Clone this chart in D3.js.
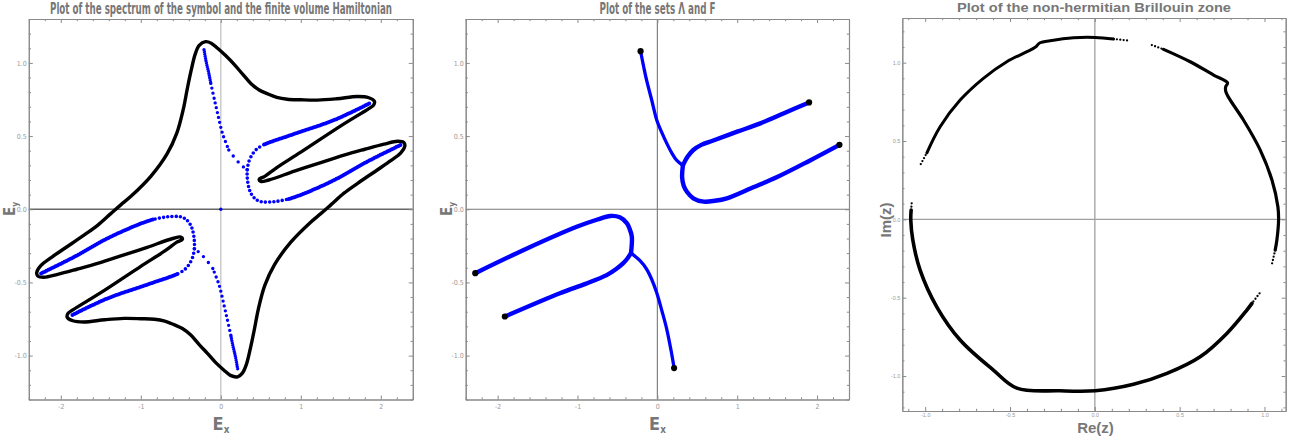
<!DOCTYPE html>
<html><head><meta charset="utf-8">
<script src="https://cdn.jsdelivr.net/npm/d3@7"></script>
<style>body{margin:0;background:#fff}svg{display:block}</style>
</head><body><svg id="c" width="1289" height="444"></svg>
<script>
// ---------------- DATA ----------------
const titles = ["Plot of the spectrum of the symbol and the finite volume Hamiltonian",
                "Plot of the sets \u039B and F",
                "Plot of the non-hermitian Brillouin zone"];
const ticksEx = [-2, -1, 0, 1, 2];
const ticksEy = [-1, -0.5, 0, 0.5, 1];
const ticksZx = [-1, -0.5, 0, 0.5, 1];
const ticksZy = [-1, -0.5, 0, 0.5, 1];

// Panel 1: spectrum of the symbol (closed black curve)
const symbolSpectrum = [
 [-0.19,1.145],[-0.12,1.135],[-0.04,1.10],[0.06,1.05],[0.167,0.99],[0.27,0.925],[0.375,0.86],[0.48,0.815],
 [0.58,0.79],[0.70,0.765],[0.83,0.752],[1.0,0.748],[1.21,0.746],[1.45,0.755],[1.71,0.77],[1.85,0.762],
 [1.92,0.738],[1.91,0.712],[1.85,0.688],[1.5,0.57],[1.0,0.39],[0.7,0.285],[0.55,0.225],[0.48,0.205],
 [0.5,0.19],[0.6,0.2],[0.92,0.26],[1.2,0.31],[1.54,0.37],[1.8,0.41],[2.04,0.445],[2.21,0.465],
 [2.29,0.455],[2.30,0.43],[2.25,0.385],[2.12,0.33],[1.96,0.27],[1.71,0.177],[1.54,0.11],[1.375,0.03],
 [1.25,-0.03],[1.12,-0.09],[0.875,-0.225],[0.67,-0.38],[0.55,-0.52],[0.47,-0.68],[0.42,-0.82],
 [0.37,-0.95],[0.32,-1.06],[0.27,-1.12],[0.21,-1.145],
 [0.12,-1.135],[0.04,-1.10],[-0.06,-1.05],[-0.167,-0.985],[-0.27,-0.925],[-0.375,-0.86],[-0.48,-0.815],
 [-0.58,-0.79],[-0.70,-0.765],[-0.83,-0.752],[-1.0,-0.748],[-1.21,-0.746],[-1.45,-0.755],[-1.71,-0.77],
 [-1.85,-0.762],[-1.92,-0.738],[-1.91,-0.712],[-1.85,-0.688],[-1.5,-0.57],[-1.0,-0.39],[-0.7,-0.285],
 [-0.55,-0.225],[-0.48,-0.205],[-0.5,-0.19],[-0.6,-0.2],[-0.92,-0.26],[-1.2,-0.31],[-1.54,-0.37],
 [-1.8,-0.41],[-2.04,-0.445],[-2.21,-0.465],[-2.29,-0.455],[-2.30,-0.43],[-2.25,-0.385],[-2.12,-0.33],
 [-1.96,-0.27],[-1.71,-0.177],[-1.54,-0.11],[-1.375,-0.03],[-1.25,0.03],[-1.12,0.09],[-0.875,0.225],
 [-0.67,0.38],[-0.55,0.52],[-0.47,0.68],[-0.42,0.82],[-0.37,0.95],[-0.32,1.06],[-0.27,1.12]
];

// Panel 1: finite volume spectrum (blue dots), branches grouped by dot spacing
const fvStemTopA   = [[-0.21,1.09],[-0.18,1.0],[-0.15,0.93],[-0.125,0.86]];
const fvStemTopB   = [[-0.125,0.86],[-0.08,0.75],[-0.04,0.655],[0.02,0.52],[0.10,0.405]];
const fvStemTopC   = [[0.10,0.405],[0.19,0.34],[0.27,0.295],[0.33,0.27]];
const fvArmUpA     = [[0.33,0.27],[0.35,0.325],[0.40,0.38],[0.46,0.416],[0.55,0.445]];
const fvArmUpB     = [[0.55,0.445],[0.625,0.46],[1.0,0.53],[1.42,0.61],[1.875,0.728]];
const fvArmUpLowA  = [[0.33,0.27],[0.33,0.22],[0.345,0.16],[0.375,0.11],[0.43,0.072],[0.5,0.052],[0.67,0.052],[0.85,0.07]];
const fvArmUpLowB  = [[0.85,0.07],[1.0,0.098],[1.42,0.2],[1.83,0.325],[2.25,0.44]];
const fvStemBotA   = [[0.21,-1.09],[0.18,-1.0],[0.15,-0.93],[0.125,-0.86]];
const fvStemBotB   = [[0.125,-0.86],[0.08,-0.75],[0.04,-0.655],[-0.02,-0.52],[-0.10,-0.405]];
const fvStemBotC   = [[-0.10,-0.405],[-0.19,-0.34],[-0.27,-0.295],[-0.33,-0.27]];
const fvArmDnA     = [[-0.33,-0.27],[-0.35,-0.325],[-0.40,-0.38],[-0.46,-0.416],[-0.55,-0.445]];
const fvArmDnB     = [[-0.55,-0.445],[-0.625,-0.46],[-1.0,-0.53],[-1.42,-0.61],[-1.875,-0.728]];
const fvArmDnUpA   = [[-0.33,-0.27],[-0.33,-0.22],[-0.345,-0.16],[-0.375,-0.11],[-0.43,-0.072],[-0.5,-0.052],[-0.67,-0.052],[-0.85,-0.07]];
const fvArmDnUpB   = [[-0.85,-0.07],[-1.0,-0.098],[-1.42,-0.2],[-1.83,-0.325],[-2.25,-0.44]];
const fvOrigin     = [[0,0]];

// Panel 2: the sets Lambda (blue) and F (black end points)
const lamStemUp   = [[-0.21,1.08],[-0.17,0.97],[-0.134,0.88],[-0.07,0.745],[-0.008,0.61],[0.055,0.525],[0.118,0.45],[0.18,0.385],[0.24,0.336],[0.32,0.30]];
const lamArmUpTop = [[0.32,0.30],[0.38,0.36],[0.45,0.405],[0.55,0.44],[0.70,0.47],[1.0,0.53],[1.29,0.587],[1.6,0.66],[1.90,0.73]];
const lamArmUpBot = [[0.32,0.30],[0.31,0.22],[0.33,0.16],[0.37,0.12],[0.45,0.075],[0.58,0.052],[0.72,0.058],[0.87,0.075],[1.2,0.15],[1.5,0.22],[1.9,0.33],[2.28,0.44]];
const lamStemDn   = [[0.21,-1.085],[0.17,-0.96],[0.118,-0.82],[0.06,-0.70],[-0.008,-0.57],[-0.07,-0.48],[-0.134,-0.41],[-0.22,-0.35],[-0.33,-0.30]];
const lamArmDnTop = [[-0.33,-0.30],[-0.32,-0.187],[-0.35,-0.13],[-0.38,-0.096],[-0.47,-0.055],[-0.59,-0.046],[-0.75,-0.07],[-1.01,-0.12],[-1.64,-0.27],[-2.28,-0.437]];
const lamArmDnBot = [[-0.33,-0.30],[-0.38,-0.34],[-0.43,-0.37],[-0.52,-0.41],[-0.635,-0.45],[-0.9,-0.51],[-1.22,-0.574],[-1.91,-0.733]];
const setF        = [[-0.21,1.08],[1.90,0.73],[2.28,0.44],[0.21,-1.085],[-2.28,-0.437],[-1.91,-0.733]];

// Panel 3: non-hermitian Brillouin zone (Re z, Im z)
const bzArcA  = [[-0.99,0.425],[-0.912,0.591],[-0.794,0.761],[-0.657,0.90],[-0.519,1.006],[-0.40,1.07],[-0.352,1.098],[-0.323,1.127],[-0.264,1.14],[-0.126,1.159],[0.002,1.161],[0.11,1.151]];
const bzArcB  = [[0.405,1.085],[0.562,1.006],[0.70,0.921],[0.782,0.872],[0.771,0.845],[0.772,0.815],[0.79,0.775],[0.876,0.634],[0.975,0.442],[1.044,0.251],[1.079,0.08],[1.083,-0.004],[1.073,-0.132],[1.063,-0.196]];
const bzArcC  = [[0.926,-0.536],[0.896,-0.579],[0.778,-0.728],[0.621,-0.877],[0.425,-0.983],[0.228,-1.053],[0.002,-1.094],[-0.205,-1.094],[-0.46,-1.077],[-0.598,-0.962],[-0.794,-0.770],[-0.932,-0.558],[-1.03,-0.324],[-1.073,-0.132],[-1.085,-0.004],[-1.083,0.059]];
const bzTails = [
 [[-1.026,0.353],[-0.99,0.425]],
 [[0.11,1.151],[0.208,1.14]],
 [[0.336,1.112],[0.405,1.085]],
 [[1.063,-0.196],[1.044,-0.285]],
 [[0.971,-0.472],[0.926,-0.536]],
 [[-1.083,0.059],[-1.079,0.112]]
];

// ---------------- DRAWING ----------------
const svg = d3.select("#c");
const NARROW = "'Liberation Sans Narrow','DejaVu Sans Condensed','Arial Narrow',sans-serif";
const REG = "'Liberation Sans',Arial,sans-serif";
const FRAME = "#8a8a8a";

function minorTicks(scale, step, major) {
  const [a, b] = scale.domain();
  return d3.range(Math.ceil(a / step - 1e-6), Math.floor(b / step + 1e-6) + 1)
    .map(k => +(k * step).toFixed(6))
    .filter(v => !major.some(m => Math.abs(m - v) < 1e-6));
}

function frame(x, y, o) {
  const [yb, yt] = y.range();
  const [xl, xr] = x.range();
  const g = svg.append("g");
  const xm = minorTicks(x, o.xStep, o.xMajor), ym = minorTicks(y, o.yStep, o.yMajor);
  const add = (axis, tr) => g.append("g").attr("transform", tr).call(axis);
  add(d3.axisBottom(x).tickValues(xm).tickSizeInner(-2.2).tickSizeOuter(0).tickFormat(""), `translate(0,${yb})`);
  add(d3.axisTop(x).tickValues(xm).tickSizeInner(-2.2).tickSizeOuter(0).tickFormat(""), `translate(0,${yt})`);
  add(d3.axisLeft(y).tickValues(ym).tickSizeInner(-2.2).tickSizeOuter(0).tickFormat(""), `translate(${xl},0)`);
  add(d3.axisRight(y).tickValues(ym).tickSizeInner(-2.2).tickSizeOuter(0).tickFormat(""), `translate(${xr},0)`);
  add(d3.axisBottom(x).tickValues(o.xMajor).tickSizeInner(-4).tickSizeOuter(0).tickPadding(o.padB).tickFormat(o.fx), `translate(0,${yb})`);
  add(d3.axisTop(x).tickValues(o.xMajor).tickSizeInner(-4).tickSizeOuter(0).tickFormat(""), `translate(0,${yt})`);
  add(d3.axisLeft(y).tickValues(o.yMajor).tickSizeInner(-4).tickSizeOuter(0).tickPadding(o.padL).tickFormat(o.fy), `translate(${xl},0)`);
  add(d3.axisRight(y).tickValues(o.yMajor).tickSizeInner(-4).tickSizeOuter(0).tickFormat(""), `translate(${xr},0)`);
  g.selectAll(".domain").attr("stroke", FRAME).attr("stroke-width", 1.1);
  g.selectAll(".tick line").attr("stroke", FRAME);
  g.selectAll("g").attr("font-family", o.font).attr("font-size", o.fs);
  g.selectAll(".tick text").attr("fill", "#9a9a9a");
  return g;
}

function originLines(x, y, cx, cy, w) {
  svg.append("line").attr("x1", x(0)).attr("x2", x(0)).attr("y1", y.range()[0]).attr("y2", y.range()[1])
    .attr("stroke", cx).attr("stroke-width", w);
  svg.append("line").attr("x1", x.range()[0]).attr("x2", x.range()[1]).attr("y1", y(0)).attr("y2", y(0))
    .attr("stroke", cy).attr("stroke-width", w);
}

function title(txt, cx, by, fs, font, len) {
  svg.append("text").attr("x", cx).attr("y", by).attr("text-anchor", "middle")
    .attr("font-family", font).attr("font-weight", "bold").attr("font-size", fs).attr("fill", "#777")
    .attr("textLength", len).attr("lengthAdjust", "spacingAndGlyphs").text(txt);
}

function subLabel(main, sub, x, y, rot, fs) {
  const t = svg.append("text").attr("transform", `translate(${x},${y}) rotate(${rot})`)
    .attr("text-anchor", "middle").attr("font-family", NARROW).attr("font-weight", "bold")
    .attr("font-size", fs).attr("fill", "#777");
  t.append("tspan").text(main);
  t.append("tspan").attr("font-size", fs * 0.55).attr("dy", fs * 0.22).text(sub);
}

const fx1 = v => String(v), fy1 = v => v.toFixed(1);

// ---- Panel 1 ----
const x1 = d3.scaleLinear().domain([-2.4, 2.4]).range([28.8, 412.8]);
const y1 = d3.scaleLinear().domain([-1.3, 1.3]).range([399.5, 19]);
originLines(x1, y1, "#c4c4c4", "#666", 1.3);
frame(x1, y1, {xMajor: ticksEx, yMajor: ticksEy, xStep: 0.2, yStep: 0.1, fx: fx1, fy: fy1, padB: 5, padL: 2, font: NARROW, fs: 7});
const l1 = d3.line().x(d => x1(d[0])).y(d => y1(d[1]));
svg.append("path").datum(symbolSpectrum).attr("d", l1.curve(d3.curveCatmullRomClosed.alpha(0.5)))
  .attr("fill", "none").attr("stroke", "#000").attr("stroke-width", 3.4).attr("stroke-linejoin", "round");
const fvGroups = [
  [fvStemTopA, 2.2, 3.4], [fvStemTopB, 5, 3.4], [fvStemTopC, 7.5, 3.4], [fvArmUpA, 4.5, 3.6], [fvArmUpB, 2, 4], [fvArmUpLowA, 4.2, 3.6], [fvArmUpLowB, 2, 4],
  [fvStemBotA, 2.2, 3.4], [fvStemBotB, 5, 3.4], [fvStemBotC, 7.5, 3.4], [fvArmDnA, 4.5, 3.6], [fvArmDnB, 2, 4], [fvArmDnUpA, 4.2, 3.6], [fvArmDnUpB, 2, 4]
];
const l1b = d3.line().x(d => x1(d[0])).y(d => y1(d[1])).curve(d3.curveCatmullRom.alpha(0.5));
fvGroups.forEach(([pts, gap, w]) => {
  svg.append("path").datum(pts).attr("d", l1b).attr("fill", "none").attr("stroke", "#0000ff")
    .attr("stroke-width", w).attr("stroke-linecap", "round").attr("stroke-dasharray", `0 ${gap}`);
});
svg.selectAll(".orig").data(fvOrigin).enter().append("circle")
  .attr("cx", d => x1(d[0])).attr("cy", d => y1(d[1])).attr("r", 1.7).attr("fill", "#0000ff");
title(titles[0], 221, 13.5, 15, NARROW, 342);
subLabel("E", "x", 221, 429.5, 0, 18);
subLabel("E", "y", 15, 209, -90, 15);

// ---- Panel 2 ----
const x2 = d3.scaleLinear().domain([-2.4, 2.4]).range([465.7, 849]);
const y2 = y1.copy();
originLines(x2, y2, "#777", "#777", 1.1);
frame(x2, y2, {xMajor: ticksEx, yMajor: ticksEy, xStep: 0.2, yStep: 0.1, fx: fx1, fy: fy1, padB: 5, padL: 2, font: NARROW, fs: 7});
const l2 = d3.line().x(d => x2(d[0])).y(d => y2(d[1])).curve(d3.curveCatmullRom.alpha(0.5));
[[lamStemUp, 3.3], [lamStemDn, 3.3], [lamArmUpTop, 4.4], [lamArmUpBot, 4.4], [lamArmDnTop, 4.4], [lamArmDnBot, 4.4]]
  .forEach(([pts, w]) => {
    svg.append("path").datum(pts).attr("d", l2).attr("fill", "none").attr("stroke", "#0000ff")
      .attr("stroke-width", w).attr("stroke-linecap", "round").attr("stroke-linejoin", "round");
  });
svg.selectAll(".fdot").data(setF).enter().append("circle")
  .attr("cx", d => x2(d[0])).attr("cy", d => y2(d[1])).attr("r", 3.1).attr("fill", "#000");
title(titles[1], 657.5, 13.5, 15, NARROW, 116);
subLabel("E", "x", 657.5, 429.5, 0, 18);
subLabel("E", "y", 452, 209, -90, 15);

// ---- Panel 3 ----
const x3 = d3.scaleLinear().domain([-1.135, 1.125]).range([902.3, 1285.7]);
const y3 = d3.scaleLinear().domain([-1.223, 1.285]).range([411, 18]);
originLines(x3, y3, "#a0a0a0", "#a0a0a0", 1.3);
frame(x3, y3, {xMajor: ticksZx, yMajor: ticksZy, xStep: 0.1, yStep: 0.1, fx: fy1, fy: fy1, padB: 2, padL: 2, font: REG, fs: 5.5});
const l3 = d3.line().x(d => x3(d[0])).y(d => y3(d[1])).curve(d3.curveCatmullRom.alpha(0.5));
[[bzArcA, 3.0], [bzArcB, 3.2], [bzArcC, 3.6]].forEach(([pts, w]) => {
  svg.append("path").datum(pts).attr("d", l3).attr("fill", "none").attr("stroke", "#000")
    .attr("stroke-width", w).attr("stroke-linecap", "round").attr("stroke-linejoin", "round");
});
bzTails.forEach(pts => {
  svg.append("path").datum(pts).attr("d", l3).attr("fill", "none").attr("stroke", "#000")
    .attr("stroke-width", 2.3).attr("stroke-linecap", "round").attr("stroke-dasharray", "0 3.4");
});
title(titles[2], 1094, 11.7, 12.5, REG, 274);
svg.append("text").attr("x", 1095.5).attr("y", 432.5).attr("text-anchor", "middle").attr("font-family", REG)
  .attr("font-weight", "bold").attr("font-size", 15).attr("fill", "#777").text("Re(z)");
svg.append("text").attr("transform", "translate(891,220) rotate(-90)").attr("text-anchor", "middle").attr("font-family", REG)
  .attr("font-weight", "bold").attr("font-size", 15).attr("fill", "#777").text("Im(z)");
</script></body></html>
